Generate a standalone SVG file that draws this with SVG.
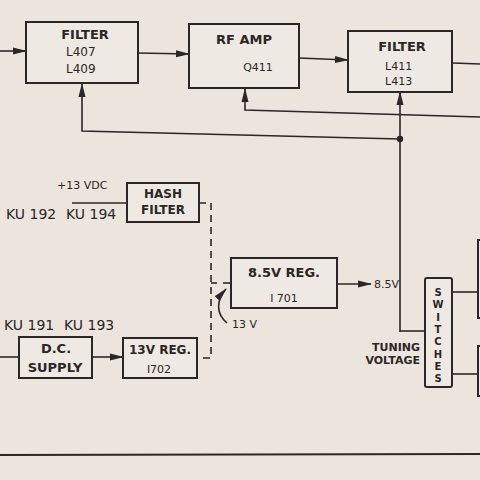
<svg xmlns="http://www.w3.org/2000/svg" width="480" height="480" viewBox="0 0 480 480">
<defs>
<marker id="ah" markerUnits="userSpaceOnUse" markerWidth="14" markerHeight="8" refX="13" refY="4" orient="auto">
<path d="M0,0.5 L14,4 L0,7.5 z" fill="#2a2726"/>
</marker>
</defs>
<style>
.bx{fill:#efe9e3;stroke:#2a2726;stroke-width:2}
.ln{fill:none;stroke:#2a2726;stroke-width:1.6}
.ds{fill:none;stroke:#2a2726;stroke-width:1.6;stroke-dasharray:7,5}
.t{font-family:"DejaVu Sans","Liberation Sans",sans-serif;fill:#2a2726}
.b{font-size:13px;font-weight:bold}
.s{font-size:11px}
.m{font-size:12px}
.k{font-size:14px}
.v{font-size:10px;font-weight:bold}
</style>
<rect width="480" height="480" fill="#ece5de"/>
<g id="connectors">
<line class="ln" x1="0" y1="51" x2="26" y2="51" marker-end="url(#ah)"/>
<line class="ln" x1="138" y1="53" x2="189" y2="54" marker-end="url(#ah)"/>
<line class="ln" x1="299" y1="58" x2="348" y2="60" marker-end="url(#ah)"/>
<line class="ln" x1="453" y1="63" x2="480" y2="64"/>
<polyline class="ln" points="400,139 82,131 82,84" marker-end="url(#ah)"/>
<polyline class="ln" points="480,117 245,110 245,89" marker-end="url(#ah)"/>
<line class="ln" x1="400" y1="332" x2="400" y2="92" marker-end="url(#ah)"/>
<polyline class="ln" points="400,331 425,331"/>
<circle cx="400" cy="139" r="3.2" fill="#2a2726"/>
<line class="ln" x1="452" y1="292" x2="480" y2="292"/>
<line class="ln" x1="452" y1="374" x2="480" y2="374"/>
<line class="ln" x1="338" y1="284" x2="371" y2="284" marker-end="url(#ah)"/>
<line class="ln" x1="72" y1="203" x2="127" y2="203"/>
<polyline class="ds" points="199,203 211,203 211,358 197,358"/>
<line class="ln" x1="211" y1="283" x2="217" y2="283"/>
<line class="ln" x1="223" y1="283" x2="231" y2="283"/>
<path class="ln" d="M227,323 C216,314 216,300 226,289" marker-end="url(#ah)"/>
<line class="ln" x1="0" y1="357" x2="19" y2="357"/>
<line class="ln" x1="92" y1="357" x2="123" y2="357" marker-end="url(#ah)"/>
<line x1="0" y1="455" x2="480" y2="454" stroke="#2a2726" stroke-width="2"/>
</g>
<g id="filter1">
<rect class="bx" x="26" y="22" width="112" height="61"/>
<text class="t b" x="85" y="39" text-anchor="middle">FILTER</text>
<text class="t m" x="66" y="56">L407</text>
<text class="t m" x="66" y="73">L409</text>
</g>
<g id="rfamp">
<rect class="bx" x="189" y="24" width="110" height="64"/>
<text class="t b" x="244" y="44" text-anchor="middle">RF AMP</text>
<text class="t s" x="258" y="71" text-anchor="middle">Q411</text>
</g>
<g id="filter2">
<rect class="bx" x="348" y="31" width="104" height="61"/>
<text class="t b" x="402" y="51" text-anchor="middle">FILTER</text>
<text class="t s" x="385" y="70">L411</text>
<text class="t s" x="385" y="85">L413</text>
</g>
<g id="hashfilter">
<rect class="bx" x="127" y="183" width="72" height="39"/>
<text class="t m" font-weight="bold" x="163" y="198" text-anchor="middle">HASH</text>
<text class="t m" font-weight="bold" x="163" y="214" text-anchor="middle">FILTER</text>
</g>
<g id="reg85">
<rect class="bx" x="231" y="258" width="106" height="50"/>
<text class="t b" x="284" y="277" text-anchor="middle">8.5V REG.</text>
<text class="t s" x="284" y="302" text-anchor="middle">I 701</text>
</g>
<g id="dcsupply">
<rect class="bx" x="19" y="337" width="73" height="41"/>
<text class="t b" x="56" y="353" text-anchor="middle">D.C.</text>
<text class="t b" x="55" y="372" text-anchor="middle">SUPPLY</text>
</g>
<g id="reg13">
<rect class="bx" x="123" y="338" width="74" height="40"/>
<text class="t m" font-weight="bold" x="160" y="354" text-anchor="middle">13V REG.</text>
<text class="t s" x="159" y="373" text-anchor="middle">I702</text>
</g>
<g id="switches">
<rect class="bx" x="425" y="278" width="27" height="109" rx="2"/>
<text class="t v" text-anchor="middle"><tspan x="438" y="296">S</tspan><tspan x="438" y="308.3">W</tspan><tspan x="438" y="320.6">I</tspan><tspan x="438" y="332.9">T</tspan><tspan x="438" y="345.2">C</tspan><tspan x="438" y="357.5">H</tspan><tspan x="438" y="369.8">E</tspan><tspan x="438" y="382.1">S</tspan></text>
</g>
<g id="rightboxes">
<rect class="bx" x="478" y="240" width="20" height="78"/>
<rect class="bx" x="478" y="346" width="20" height="50"/>
</g>
<g id="labels">
<text class="t s" x="57" y="189">+13 VDC</text>
<text class="t k" x="6" y="219">KU 192</text>
<text class="t k" x="66" y="219">KU 194</text>
<text class="t k" x="4" y="330">KU 191</text>
<text class="t k" x="64" y="330">KU 193</text>
<text class="t s" x="374" y="288">8.5V</text>
<text class="t s" x="232" y="328">13 V</text>
<text class="t s" font-weight="bold" x="420" y="351" text-anchor="end">TUNING</text>
<text class="t s" font-weight="bold" x="420" y="364" text-anchor="end">VOLTAGE</text>
</g>
</svg>
